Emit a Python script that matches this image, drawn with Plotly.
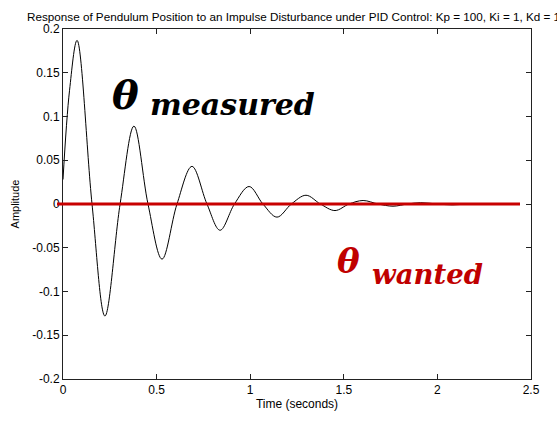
import plotly.graph_objects as go

# Impulse response (time in s, amplitude)
time_s = [0.0, 0.035, 0.075, 0.155, 0.224, 0.305, 0.379, 0.454, 0.529, 0.609,
          0.689, 0.769, 0.839, 0.916, 0.994, 1.068, 1.143, 1.22, 1.298, 1.375,
          1.453, 1.528, 1.603, 1.683, 1.763, 1.84, 1.91, 2.0, 2.08, 2.16,
          2.24, 2.32, 2.44]
theta_measured = [0.028, 0.13, 0.187, 0.0, -0.128, 0.0, 0.089, 0.0, -0.063, 0.0,
                  0.043, 0.0, -0.030, 0.0, 0.020, 0.0, -0.015, 0.0, 0.010, 0.0,
                  -0.0075, 0.0, 0.004, 0.0, -0.0025, 0.0, 0.0015, 0.0, -0.001, 0.0,
                  0.0005, 0.0, 0.0]

wanted_level = 0.0

x_ticks = [0, 0.5, 1, 1.5, 2, 2.5]
x_ticktext = ["0", "0.5", "1", "1.5", "2", "2.5"]
y_ticks = [-0.2, -0.15, -0.1, -0.05, 0, 0.05, 0.1, 0.15, 0.2]
y_ticktext = ["-0.2", "-0.15", "-0.1", "-0.05", "0", "0.05", "0.1", "0.15", "0.2"]

title = "Response of Pendulum Position to an Impulse Disturbance under PID Control: Kp = 100, Ki = 1, Kd = 1"

W, H = 557, 421
L, R, T, B = 63, 26, 29, 37
pw, ph = W - L - R, H - T - B

def px(xp):
    return (xp - L) / pw

def py(yp):
    return (H - B - yp) / ph

sans = "Liberation Sans, Arial"
fig = go.Figure()
fig.add_trace(go.Scatter(x=time_s, y=theta_measured, mode="lines",
                         line=dict(color="black", width=1, shape="spline", smoothing=1.0),
                         hoverinfo="skip", showlegend=False))

axis_common = dict(showgrid=False, zeroline=False, showline=True, linecolor="#222222",
                   linewidth=1, mirror="ticks", ticks="inside", ticklen=5,
                   tickcolor="#222222", tickfont=dict(family=sans, size=12, color="black"))

fig.update_xaxes(range=[0, 2.5], tickvals=x_ticks, ticktext=x_ticktext,
                 title=dict(text="Time (seconds)", font=dict(family=sans, size=12, color="black"),
                            standoff=3),
                 **axis_common)
fig.update_yaxes(range=[-0.2, 0.2], tickvals=y_ticks, ticktext=y_ticktext,
                 title=dict(text="Amplitude", font=dict(family=sans, size=11, color="black"),
                            standoff=10),
                 **axis_common)

# red "wanted" line
fig.add_shape(type="line", xref="paper", yref="y", x0=px(57), x1=px(520), y0=wanted_level, y1=wanted_level,
              line=dict(color="#C80000", width=3), layer="above")

serif = "DejaVu Serif, serif"
fig.add_annotation(xref="paper", yref="paper", x=px(110), y=py(121), xanchor="left", yanchor="bottom",
                   text="<b><i>θ</i></b>", showarrow=False,
                   font=dict(family=serif, size=40, color="black"))
fig.add_annotation(xref="paper", yref="paper", x=px(148), y=py(125), xanchor="left", yanchor="bottom",
                   text="<b><i>measured</i></b>", showarrow=False,
                   font=dict(family=serif, size=30, color="black"))
fig.add_annotation(xref="paper", yref="paper", x=px(335), y=py(287), xanchor="left", yanchor="bottom",
                   text="<b><i>θ</i></b>", showarrow=False,
                   font=dict(family=serif, size=34, color="#C00000"))
fig.add_annotation(xref="paper", yref="paper", x=px(370), y=py(296), xanchor="left", yanchor="bottom",
                   text="<b><i>wanted</i></b>", showarrow=False,
                   font=dict(family=serif, size=27.5, color="#C00000"))

# title as a free annotation: in the original it runs slightly past the right edge
fig.add_annotation(xref="paper", yref="paper", x=px(25), y=py(16), xanchor="left", yanchor="middle",
                   text=title, showarrow=False,
                   font=dict(family=sans, size=11.7, color="black"))

fig.update_layout(
    width=W, height=H,
    margin=dict(l=L, r=R, t=T, b=B, pad=0),
    paper_bgcolor="white", plot_bgcolor="white",
)

fig.write_html("out.html")
